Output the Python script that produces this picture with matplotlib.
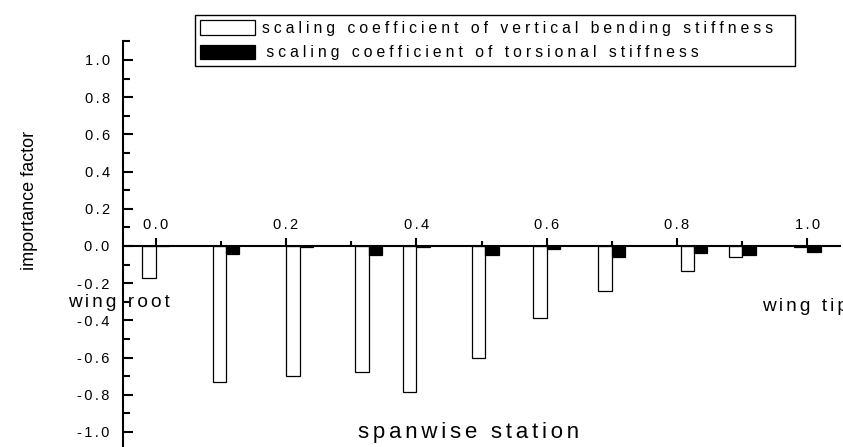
import matplotlib
matplotlib.use('Agg')
import matplotlib.pyplot as plt
from matplotlib.ticker import MultipleLocator, FuncFormatter

plt.rcParams['font.family'] = ['Liberation Sans', 'DejaVu Sans']

# spanwise stations and importance factors of the two scaling coefficients
stations = [0.0, 0.108, 0.221, 0.327, 0.400, 0.506, 0.600, 0.700, 0.826, 0.900, 1.000]
bending = [-0.172, -0.733, -0.698, -0.675, -0.785, -0.600, -0.388, -0.244, -0.136, -0.060, -0.006]
torsion = [-0.002, -0.044, -0.004, -0.048, -0.005, -0.050, -0.016, -0.058, -0.040, -0.051, -0.032]

bend_label = 'scaling coefficient of vertical bending stiffness'
tors_label = 'scaling coefficient of torsional stiffness'
bar_w = 0.0205


def spaced(s, gap='\u2005'):
    """Letter-spaced version of a string"""
    return gap.join(s)


fig = plt.figure(figsize=(8.43, 4.47), dpi=100)
ax = fig.add_axes([123.1 / 843, -0.008, 716.8 / 843, 0.9154])

ax.bar(stations, bending, width=-bar_w, align='edge', facecolor='white',
       edgecolor='black', linewidth=0.9, label=spaced(bend_label))
ax.bar(stations, torsion, width=bar_w, align='edge', facecolor='black',
       edgecolor='black', linewidth=0.9, label=' ' + spaced(tors_label))

ax.set_xlim(-0.05, 1.05)
ax.set_ylim(-1.1, 1.1)

ax.spines['top'].set_visible(False)
ax.spines['right'].set_visible(False)
ax.spines['bottom'].set_position(('data', 0))
ax.spines['bottom'].set_linewidth(1.5)
ax.spines['left'].set_linewidth(1.5)

fmt = FuncFormatter(lambda v, p: spaced('{:.1f}'.format(v), '\u2006'))
ax.xaxis.set_major_locator(MultipleLocator(0.2))
ax.xaxis.set_minor_locator(MultipleLocator(0.1))
ax.yaxis.set_major_locator(MultipleLocator(0.2))
ax.yaxis.set_minor_locator(MultipleLocator(0.1))
ax.xaxis.set_major_formatter(fmt)
ax.yaxis.set_major_formatter(fmt)

ax.tick_params(axis='x', which='both', direction='in', width=1.5, pad=-20, labelsize=10.5)
ax.tick_params(axis='x', which='major', length=6)
ax.tick_params(axis='x', which='minor', length=3.5)
ax.tick_params(axis='y', which='both', direction='in', width=1.5, pad=9.7, labelsize=10.5)
ax.tick_params(axis='y', which='major', length=7.5)
ax.tick_params(axis='y', which='minor', length=5)

ax.set_ylabel('importance factor', fontsize=13)
ax.yaxis.set_label_coords(-0.119, 0.612)

ax.text(-0.1344, -0.305, spaced('wing root', '\u2006'), fontsize=13.7,
        ha='left', va='center')
ax.text(0.931, -0.323, spaced('wing tip', '\u2006'), fontsize=13.7,
        ha='left', va='center', clip_on=False)
ax.text(0.480, -1.005, spaced('spanwise station', '\u2006'), fontsize=16,
        ha='center', va='center')

leg = ax.legend(loc='upper left', bbox_to_anchor=(195 / 843, 1 - 65 / 447, 600 / 843, 50 / 447),
                bbox_transform=fig.transFigure, mode='expand', borderaxespad=0,
                fontsize=11.3, handlelength=3.5, handleheight=1.05, handletextpad=0.45,
                labelspacing=0.55, borderpad=0.35, fancybox=False, framealpha=1)
leg.get_frame().set_edgecolor('black')
leg.get_frame().set_linewidth(1.0)

fig.savefig('out.png', dpi=100)
